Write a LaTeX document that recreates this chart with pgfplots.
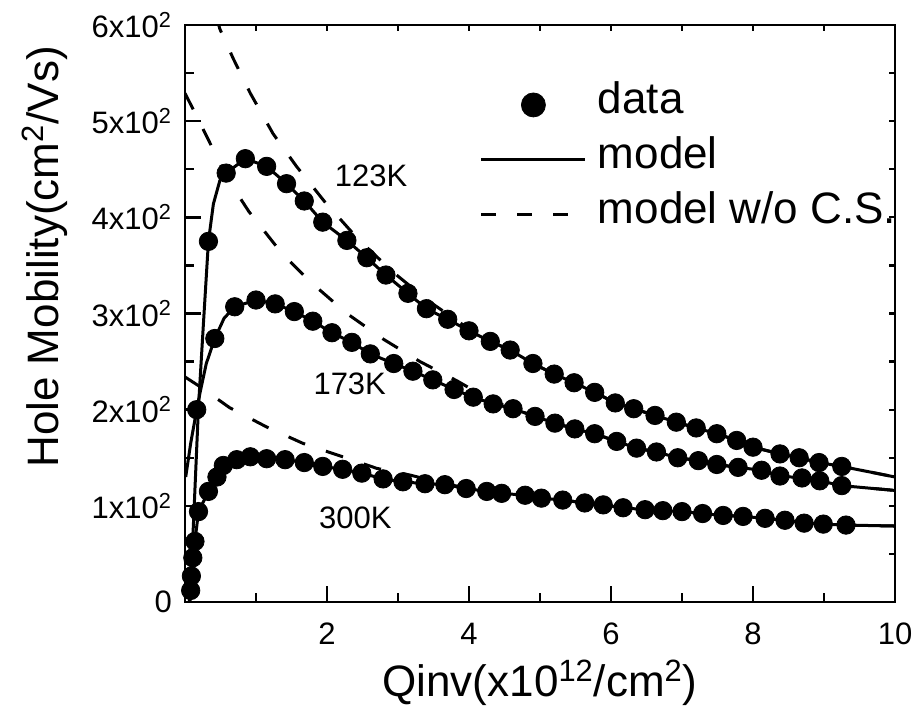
\documentclass[border=0pt]{standalone}
\usepackage{fontspec}
\setmainfont{Liberation Sans}
\usepackage{pgfplots}
\pgfplotsset{compat=1.18}
\pgfplotsset{
  leglineimg/.style={legend image code/.code={\draw[##1] (0pt,0pt) -- (52pt,0pt);}},
  legmarkimg/.style={legend image code/.code={\draw[##1] plot coordinates {(26pt,0pt)};}},
}
\begin{document}
\begin{tikzpicture}
\useasboundingbox (-92.5pt,-59.5pt) rectangle (364pt,301pt);
% overlay axis for small ticks on top and right
\begin{axis}[
  at={(0,0)}, anchor=south west,
  scale only axis, width=355pt, height=288.5pt,
  xmin=0, xmax=10, ymin=0, ymax=600,
  axis line style={line width=1.2pt},
  xtick={0,1,...,10}, ytick={0,50,...,600},
  xticklabels={}, yticklabels={},
  tick pos=right, tick align=inside,
  major tick length=3pt,
  every tick/.style={line width=1.1pt, black},
]
\end{axis}
\begin{axis}[
  at={(0,0)}, anchor=south west,
  scale only axis, width=355pt, height=288.5pt,
  xmin=0, xmax=10, ymin=0, ymax=600,
  axis line style={line width=1.2pt},
  xtick={2,4,6,8,10}, xticklabels={2,4,6,8,10},
  minor xtick={1,3,5,7,9},
  ytick={0,100,...,600},
  yticklabels={0,1x10\textsuperscript{2},2x10\textsuperscript{2},3x10\textsuperscript{2},4x10\textsuperscript{2},5x10\textsuperscript{2},6x10\textsuperscript{2}},
  minor ytick={50,150,...,550},
  tick pos=left, tick align=inside,
  major tick length=8pt, minor tick length=4.5pt,
  every tick/.style={line width=1.2pt, black},
  ticklabel style={font=\fontsize{15.5}{18}\selectfont},
  xticklabel style={yshift=-7pt},
  yticklabel style={xshift=-3pt},
  xlabel={Qinv(x10\textsuperscript{12}/cm\textsuperscript{2})},
  ylabel={Hole Mobility(cm\textsuperscript{2}/Vs)},
  label style={font=\fontsize{22}{26}\selectfont},
  xlabel style={at={(axis description cs:0.5,-0.14)}, anchor=center},
  ylabel style={at={(axis description cs:-0.197,0.598)}, anchor=center},
  legend style={draw=none, fill=none, at={(0.4148,0.902)}, anchor=north west,
    font=\fontsize{22}{26}\selectfont, inner sep=0pt, row sep=4.5pt,
    nodes={text height=16pt, text depth=7pt, inner sep=0pt},
    /tikz/every odd column/.append style={column sep=5.5pt}},
  legend cell align=left,
]
\addlegendimage{only marks, mark=*, black, mark size=6pt, legmarkimg}
\addlegendentry{data}
\addlegendimage{black, line width=1.5pt, leglineimg}
\addlegendentry{model}
\addlegendimage{black, line width=1.5pt, dash pattern=on 7.5pt off 10.5pt, leglineimg}
\addlegendentry{model w/o C.S.}

% model w/o C.S. (dashed)
\addplot[black, line width=1.5pt, dash pattern=on 9pt off 11pt, forget plot] coordinates {
(0.44,610)(0.49,596)(0.68,565)(0.92,529)(1.24,487)(1.57,453)(1.97,416)(2.43,378)(2.93,343)(3.43,313)(3.9,289)(4.3,271)(4.58,262)(4.90,248)(5.20,237)(5.48,228)(5.77,218)(6.06,207)(6.32,201)(6.62,194)(6.92,187)(7.20,181)(7.49,175)(7.77,168)(8.00,161)(8.38,154)(8.65,150)(8.93,145)(9.25,141)(10,130)};
\addplot[black, line width=1.5pt, dash pattern=on 9pt off 11pt, forget plot] coordinates {
(0,529)(0.2,500)(0.38,473)(0.6,440)(0.9,406)(1.37,362)(1.78,332)(2.28,300)(2.8,273)(3.31,250)(3.83,230)(4.3,210)(4.62,201)(4.93,193)(5.21,186)(5.49,180)(5.77,175)(6.08,167)(6.36,160)(6.64,156)(6.94,150)(7.23,147)(7.49,143)(7.79,140)(8.12,137)(8.38,131)(8.69,129)(8.94,126)(9.25,121)(10,116)};
\addplot[black, line width=1.5pt, dash pattern=on 9pt off 11pt, forget plot] coordinates {
(0,234)(0.21,224)(0.63,202)(1.15,182)(1.66,165)(2.18,152)(2.70,139)(3.17,132)(3.6,124)(4.0,118)(4.25,115)(4.46,113)(4.79,111)(5.02,108)(5.32,106)(5.63,103)(5.89,101)(6.17,98)(6.48,96)(6.73,95)(7.0,94)(7.29,92)(7.58,90)(7.86,89)(8.17,87)(8.45,85)(8.72,82)(8.99,81)(9.31,80)(10,79)};

% model (solid)
\addplot[black, line width=1.5pt, forget plot] coordinates {
(0.07,0)(0.13,100)(0.19,203)(0.26,290)(0.33,375)(0.40,414)(0.49,438)(0.58,446)(0.85,461)(1.15,453)(1.43,435)(1.68,417)(1.94,395)(2.28,376)(2.56,358)(2.83,340)(3.14,321)(3.40,305)(3.70,294)(4.00,282)(4.30,271)(4.58,262)(4.90,248)(5.20,237)(5.48,228)(5.77,218)(6.06,207)(6.32,201)(6.62,194)(6.92,187)(7.20,181)(7.49,175)(7.77,168)(8.00,161)(8.38,154)(8.65,150)(8.93,145)(9.25,141)(10,130)};
\addplot[black, line width=1.5pt, forget plot] coordinates {
(0.01,130)(0.08,165)(0.165,200)(0.21,217)(0.30,248)(0.42,274)(0.55,295)(0.70,307)(1.0,314)(1.27,310)(1.54,302)(1.80,292)(2.07,280)(2.35,270)(2.61,258)(2.94,248)(3.21,240)(3.49,231)(3.79,221)(4.06,213)(4.34,206)(4.62,201)(4.93,193)(5.21,186)(5.49,180)(5.77,175)(6.08,167)(6.36,160)(6.64,156)(6.94,150)(7.23,147)(7.49,143)(7.79,140)(8.12,137)(8.38,131)(8.69,129)(8.94,126)(9.25,121)(10,116)};
\addplot[black, line width=1.5pt, forget plot] coordinates {
(0.06,0)(0.08,12)(0.09,27)(0.11,46)(0.14,63)(0.19,94)(0.33,115)(0.45,130)(0.54,142)(0.73,148)(0.92,151)(1.15,149)(1.41,148)(1.68,145)(1.94,141)(2.22,138)(2.49,134)(2.79,128)(3.07,125)(3.38,123)(3.66,122)(3.96,118)(4.25,115)(4.46,113)(4.79,111)(5.02,108)(5.32,106)(5.63,103)(5.89,101)(6.17,98)(6.48,96)(6.73,95)(7.0,94)(7.29,92)(7.58,90)(7.86,89)(8.17,87)(8.45,85)(8.72,82)(8.99,81)(9.31,80)(10,79)};

% data
\addplot[only marks, mark=*, black, mark size=4.6pt, forget plot] coordinates {
(0.33,375)(0.58,446)(0.85,461)(1.15,453)(1.43,435)(1.68,417)(1.94,395)(2.28,376)(2.56,358)(2.83,340)(3.14,321)(3.40,305)(3.70,294)(4.00,282)(4.30,271)(4.58,262)(4.90,248)(5.20,237)(5.48,228)(5.77,218)(6.06,207)(6.32,201)(6.62,194)(6.92,187)(7.20,181)(7.49,175)(7.77,168)(8.00,161)(8.38,154)(8.65,150)(8.93,145)(9.25,141)};
\addplot[only marks, mark=*, black, mark size=4.6pt, forget plot] coordinates {
(0.165,200)(0.42,274)(0.70,307)(1.0,314)(1.27,310)(1.54,302)(1.80,292)(2.07,280)(2.35,270)(2.61,258)(2.94,248)(3.21,240)(3.49,231)(3.79,221)(4.06,213)(4.34,206)(4.62,201)(4.93,193)(5.21,186)(5.49,180)(5.77,175)(6.08,167)(6.36,160)(6.64,156)(6.94,150)(7.23,147)(7.49,143)(7.79,140)(8.12,137)(8.38,131)(8.69,129)(8.94,126)(9.25,121)};
\addplot[only marks, mark=*, black, mark size=4.6pt, forget plot] coordinates {
(0.08,12)(0.09,27)(0.11,46)(0.14,63)(0.19,94)(0.33,115)(0.45,130)(0.54,142)(0.73,148)(0.92,151)(1.15,149)(1.41,148)(1.68,145)(1.94,141)(2.22,138)(2.49,134)(2.79,128)(3.07,125)(3.38,123)(3.66,122)(3.96,118)(4.25,115)(4.46,113)(4.79,111)(5.02,108)(5.32,106)(5.63,103)(5.89,101)(6.17,98)(6.48,96)(6.73,95)(7.0,94)(7.29,92)(7.58,90)(7.86,89)(8.17,87)(8.45,85)(8.72,82)(8.99,81)(9.31,80)};

\node[font=\fontsize{15.5}{18}\selectfont] at (axis cs:2.62,443) {123K};
\node[font=\fontsize{15.5}{18}\selectfont] at (axis cs:2.32,227) {173K};
\node[font=\fontsize{15.5}{18}\selectfont] at (axis cs:2.40,88) {300K};
\end{axis}
\end{tikzpicture}
\end{document}
